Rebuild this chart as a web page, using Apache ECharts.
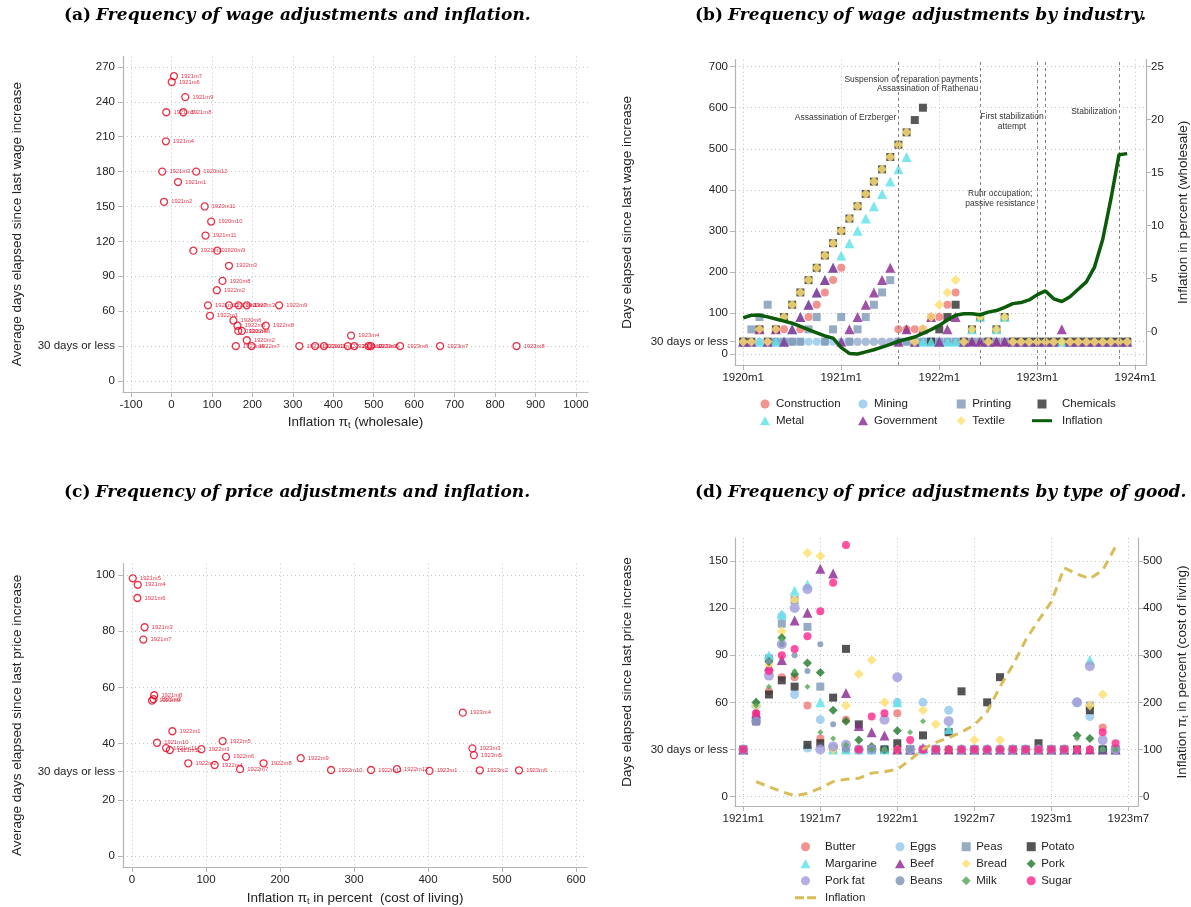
<!DOCTYPE html>
<html><head><meta charset="utf-8">
<script src="https://cdn.jsdelivr.net/npm/echarts@6/dist/echarts.min.js"></script>
<style>html,body{margin:0;padding:0;background:#fff}#c{width:1191px;height:907px}</style>
</head><body><div id="c"></div>
<script>
// ---------- Panel (a): wage adjustments vs wholesale inflation ----------
const aLabels = ['1921m7','1921m6','1921m9','1921m5','1921m8','1921m4','1921m3','1920m12','1921m1','1921m2','1920m11','1920m10','1921m11','1921m10','1920m9','1922m3','1920m8','1922m2','1921m12','1920m1','1920m7','1920m3','1922m9','1922m1','1920m6','1922m5','1922m8','1920m4','1922m6','1920m2','1922m4','1922m7','1922m10','1922m11','1922m12','1923m1','1923m2','1923m3','1923m5','1923m4','1923m6','1923m7','1923m8'];
const aInfl   = [6,0.5,34,-13,29,-14,-23,61,16,-18.5,82,98,84,54,113,142,126,112,90,142,166,186,266,95,153,163,233,165,174,186,159,198,316,355,377,436,452,487,493,444,565,664,853];
const aDays   = [262,257,244,231,231,206,180,180,171,154,150,137,125,112,112,99,86,78,65,65,65,65,65,56,52,47.5,47.5,43,43,35,30,30,30,30,30,30,30,30,30,39,30,30,30];

// ---------- Panel (b): wage adjustments by industry (months from 1920m1) ----------
const bMonths = Array.from({length:48},(_,i)=>i);
const bConstruction = [30,30,60,30,60,60,30,60,90,120,150,180,210,30,30,30,30,30,30,60,60,60,60,90,90,120,150,30,30,30,30,30,30,30,30,30,30,30,30,30,30,30,30,30,30,30,30,30];
const bMining       = [30,30,30,30,30,30,30,30,30,30,30,30,30,30,30,30,30,30,30,30,30,30,30,30,30,30,30,30,60,90,30,60,90,30,30,30,30,30,30,30,30,30,30,30,30,30,30,30];
const bPrinting     = [30,60,90,120,30,30,30,30,60,90,30,60,90,30,60,90,120,150,180,30,30,30,30,30,30,30,30,30,30,30,30,30,30,30,30,30,30,30,30,30,30,30,30,30,30,30,30,30];
const bChemicals    = [30,30,60,30,60,90,120,150,180,210,240,270,300,330,360,390,420,450,480,510,540,570,600,30,60,90,120,30,60,90,30,60,90,30,30,30,30,30,30,30,30,30,30,30,30,30,30,30];
const bMetal        = [30,30,30,30,30,30,60,90,120,150,180,210,240,270,300,330,360,390,420,450,480,30,30,30,30,30,30,30,60,90,30,60,90,30,30,30,30,30,30,30,30,30,30,30,30,30,30,30];
const bGovernment   = [30,30,60,30,60,30,60,90,120,150,180,210,30,60,90,120,150,180,210,30,60,30,60,90,30,60,90,30,30,30,30,30,30,30,30,30,30,30,30,60,30,30,30,30,30,30,30,30];
const bTextile      = [30,30,60,30,60,90,120,150,180,210,240,270,300,330,360,390,420,450,480,510,540,30,60,90,120,150,180,30,60,90,30,60,90,30,30,30,30,30,30,30,30,30,30,30,30,30,30,30];
const bInflation    = [1.3,1.55,1.55,1.4,1.2,1.0,0.8,0.5,0.2,-0.1,-0.4,-0.6,-1.5,-2.05,-2.1,-1.9,-1.7,-1.45,-1.2,-0.9,-0.7,-0.5,-0.15,0.2,0.6,1.1,1.55,1.7,1.7,1.6,1.85,2.0,2.3,2.65,2.75,3.0,3.5,3.85,3.1,2.85,3.3,4.0,4.7,6.1,8.7,12.5,16.7,16.8];
const bEventMonths  = [19,29,36,37,46];
const bNoteText  = ['Assassination of Erzberger','Suspension of reparation payments\nAssassination of Rathenau','First stabilization\nattempt','Ruhr occupation;\npassive resistance','Stabilization'];
const bNoteX     = [19,29,32.9,31.45,46];
const bNoteY     = [577,657,566,379,590];
const bNotePos   = ['left','left','inside','inside','left'];

// ---------- Panel (c): price adjustments vs cost-of-living inflation ----------
const cLabels = ['1921m5','1921m4','1921m6','1921m3','1921m7','1921m8','1921m9','1921m2','1922m1','1921m10','1921m11','1921m12','1922m3','1922m5','1922m6','1922m2','1922m4','1922m7','1922m8','1922m9','1922m10','1922m11','1922m12','1923m1','1923m2','1923m3','1923m4','1923m5','1923m6'];
const cInfl   = [1,7.7,7.2,17,15.3,30,27,29,54.5,33.8,46,51,93.7,122.5,127,76,111.7,146,177.7,228,269,323,358,402,470,460,447,462,523];
const cDays   = [98.8,96.5,91.8,81.4,77,57.2,55.3,55.8,44.4,40.3,38.4,37.7,38,40.9,35.3,33,32.4,30.9,33,34.8,30.6,30.6,30.9,30.3,30.5,38.3,51,35.9,30.5];

// ---------- Panel (d): price adjustments by good (months from 1921m1) ----------
const dMonths = Array.from({length:30},(_,i)=>i);
const dButter   = [30,53,67,76,76,58,37,30,49,30,30,30,53,30,30,30,30,30,30,30,30,30,30,30,30,30,30,30,44,30];
const dEggs     = [30,58,88,115,65,31,49,31,30,30,30,30,60,30,60,30,55,30,30,30,30,30,30,30,30,30,60,51,30,30];
const dPeas     = [30,48,88,110,125,108,70,30,30,30,30,30,30,30,30,30,30,30,30,30,30,30,30,30,30,30,30,58,30,30];
const dPotato   = [30,48,65,74,70,33,34,63,94,46,30,30,34,30,39,30,41,67,30,60,76,30,30,34,30,30,30,55,30,30];
const dMargarine= [30,60,90,116,131,135,60,30,30,30,30,30,60,30,30,30,43,30,30,30,30,30,30,30,30,30,30,87,30,30];
const dBeef     = [30,53,83,87,112,117,145,142,66,45,41,39,30,30,31,30,30,30,30,30,30,30,30,30,30,30,30,30,30,30];
const dBread    = [30,58,84,105,125,155,153,30,58,78,87,60,30,30,55,46,30,30,36,30,36,30,30,30,30,30,30,58,65,30];
const dPork     = [30,60,86,101,78,85,79,55,48,36,32,30,42,30,30,30,30,30,30,30,30,30,30,30,30,30,39,37,30,30];
const dPorkFat  = [30,48,77,97,120,132,30,32,33,30,30,49,76,30,30,30,48,30,30,30,30,30,30,30,30,30,60,83,36,30];
const dBeans    = [30,48,86,97,90,80,97,46,30,30,30,30,30,30,30,30,30,30,30,30,30,30,30,30,30,30,30,30,30,30];
const dMilk     = [30,58,70,100,80,70,41,37,33,30,30,30,30,41,48,30,30,30,30,30,30,30,30,30,30,30,37,30,30,30];
const dSugar    = [30,53,80,90,94,102,118,136,160,30,51,53,30,36,30,30,30,30,30,30,30,30,30,30,30,30,30,30,41,34];
const dInflation= [null,32,21,11,2,7,18,32,37,39,50,53,58,78,101,115,125,137,152,180,233,279,332,374,413,485,472,462,480,530];

// ---------- Tick label values ----------
const aYTicks = [0,30,60,90,120,150,180,210,240,270];
const aXTicks = [-100,0,100,200,300,400,500,600,700,800,900,1000];
const bYTicks = [0,30,100,200,300,400,500,600,700];
const bY2Ticks = [0,5,10,15,20,25];
const bXTicks = [0,12,24,36,48];
const cYTicks = [0,20,30,40,60,80,100];
const cXTicks = [0,100,200,300,400,500,600];
const dYTicks = [0,30,60,90,120,150];
const dY2Ticks = [0,100,200,300,400,500];
const dXTicks = [0,6,12,18,24,30];

// ---------- helpers ----------
const SANS = 'Liberation Sans';
const SERIF = 'DejaVu Serif';
const AXC = '#b4b4b4';
const TXT = '#222';
const RED = '#e3001b';
const daysFmt = v => v === 30 ? '30 days or less' : String(v);
const rich = {s:{fontSize:9, fontFamily:SANS, color:TXT, padding:[6,0,0,0]}};

// legend icon shapes
const IC_SQ  = 'path://M0,0h10v10h-10z';
const IC_TRI = 'path://M5,0L10,9L0,9Z';
const IC_DIA = 'path://M5,0L10,5L5,10L0,5Z';
const IC_LINE = 'path://M0,0h20v3h-20z';
const IC_DASH = 'path://M0,0h9v3h-9zM12,0h9v3h-9z';

function axis(o) {
  const base = {
    type:'value', min:o.min, max:o.max,
    axisLine:{show:true, onZero:false, lineStyle:{color:AXC, width:1.2}},
    axisTick:{show:true, length:5, customValues:o.ticks, lineStyle:{color:AXC}},
    axisLabel:{show:true, customValues:o.ticks, fontSize:11.5, fontFamily:SANS, color:TXT, margin:o.margin||7, formatter:o.fmt||(v=>String(v))},
    splitLine:{show:o.split!==false, lineStyle:{type:[1,3], color:'#c4c4c4', width:1}},
    gridIndex:o.grid
  };
  if (o.name) {
    base.name = o.name; base.nameLocation = 'middle'; base.nameGap = o.gap;
    base.nameTextStyle = {fontSize:13.5, fontFamily:SANS, color:TXT, rich:rich};
  }
  if (o.position) base.position = o.position;
  return base;
}

function zip(xs, ys) { return xs.map((x,i)=> ys[i]==null ? null : [x, ys[i]]).filter(d=>d); }
function labelled(xs, ys, ls) { return xs.map((x,i)=>[x, ys[i], ls[i]]); }

function scat(name, xi, yi, data, symbol, size, color, extra) {
  return Object.assign({
    type:'scatter', name:name, xAxisIndex:xi, yAxisIndex:yi, data:data,
    symbol:symbol, symbolSize:size,
    itemStyle:{color:color, opacity:0.82}, z:3
  }, extra||{});
}

const redLabelled = (xi, yi, data) => ({
  type:'scatter', xAxisIndex:xi, yAxisIndex:yi, data:data, symbol:'circle', symbolSize:7,
  itemStyle:{color:'rgba(0,0,0,0)', borderColor:RED, borderWidth:1.3},
  label:{show:true, position:'right', distance:3, fontSize:5.8, fontFamily:SANS, color:RED, formatter:p=>p.data[2]}
});

// annotations for panel (b)
const markLineB = {
  silent:true, symbol:'none', label:{show:false},
  lineStyle:{type:[3,3], color:'#808080', width:1},
  data: bEventMonths.map(m=>({xAxis:m}))
};
const markPointB = {
  silent:true, symbol:'circle', symbolSize:0,
  data: bNoteText.map((t,i)=>({coord:[bNoteX[i], bNoteY[i]], value:0,
    label:{show:true, position:bNotePos[i], distance:2, formatter:t, fontSize:8.5, lineHeight:9.5, fontFamily:SANS, color:'#333'}}))
};

const titleRich = {
  b:{fontFamily:SERIF, fontWeight:'bold', fontSize:17, color:'#000'},
  i:{fontFamily:SERIF, fontStyle:'italic', fontSize:17, color:'#000'}
};
const mkTitle = (left, top, tag, txt) => ({left:left, top:top, padding:0, text:'{b|'+tag+'} {i|'+txt+'}', textStyle:{rich:titleRich}});

const bXfmt = v => (1920 + v/12) + 'm1';
const dXfmt = v => (1921 + Math.floor(v/12)) + 'm' + (v%12 + 1);

const legTxt = {fontSize:11.5, lineHeight:14, fontFamily:SANS, color:TXT};
const legBase = {orient:'vertical', padding:0, itemHeight:9, itemGap:2.7, textStyle:legTxt};

const option = {
  animation:false,
  backgroundColor:'#fff',
  title:[
    mkTitle(64, 7, '(a)', 'Frequency of wage adjustments and inflation.'),
    mkTitle(695, 7, '(b)', 'Frequency of wage adjustments by industry.'),
    mkTitle(64, 484, '(c)', 'Frequency of price adjustments and inflation.'),
    mkTitle(695, 484, '(d)', 'Frequency of price adjustments by type of good.')
  ],
  grid:[
    {left:123, top:56.4, width:465.1, height:335.6},
    {left:735, top:59.7, width:411.7, height:305.3},
    {left:123, top:563.7, width:464.1, height:304.3},
    {left:735, top:538, width:404, height:268}
  ],
  xAxis:[
    axis({grid:0, min:-120, max:1030, ticks:aXTicks, name:'Inflation π{s|t} (wholesale)', gap:23}),
    axis({grid:1, min:-1.0, max:49.3, ticks:bXTicks, fmt:bXfmt}),
    axis({grid:2, min:-12.2, max:615, ticks:cXTicks, name:'Inflation π{s|t} in percent  (cost of living)', gap:24}),
    axis({grid:3, min:-0.645, max:30.75, ticks:dXTicks, fmt:dXfmt})
  ],
  yAxis:[
    axis({grid:0, min:-9.5, max:279, ticks:aYTicks, fmt:daysFmt, margin:8, name:'Average days elapsed since last wage increase', gap:99}),
    axis({grid:1, min:-26.8, max:717, ticks:bYTicks, fmt:daysFmt, margin:7, name:'Days elapsed since last wage increase', gap:101}),
    axis({grid:1, min:-3.14, max:25.66, ticks:bY2Ticks, position:'right', split:false, margin:5, name:'Inflation in percent (wholesale)', gap:30}),
    axis({grid:2, min:-3.9, max:104, ticks:cYTicks, fmt:daysFmt, margin:8, name:'Average days elapsed since last price increase', gap:99}),
    axis({grid:3, min:-5.9, max:164.5, ticks:dYTicks, fmt:daysFmt, margin:7, name:'Days elapsed since last price increase', gap:101}),
    axis({grid:3, min:-19.67, max:548.33, ticks:dY2Ticks, position:'right', split:false, margin:5, name:'Inflation π{s|t} in percent (cost of living)', gap:37})
  ],
  legend:[
    Object.assign({}, legBase, {left:760, top:397, itemWidth:12, data:['Construction',{name:'Metal',icon:IC_TRI}]}),
    Object.assign({}, legBase, {left:858, top:397, itemWidth:12, data:['Mining',{name:'Government',icon:IC_TRI}]}),
    Object.assign({}, legBase, {left:956.7, top:397, itemWidth:12, data:[{name:'Printing',icon:IC_SQ},{name:'Textile',icon:IC_DIA}]}),
    Object.assign({}, legBase, {left:1032, top:397, itemWidth:20, textStyle:Object.assign({}, legTxt, {padding:[0,0,0,5]}), data:[{name:'Chemicals',icon:IC_SQ},{name:'Inflation',icon:IC_LINE}]}),
    Object.assign({}, legBase, {left:795, top:839.7, itemWidth:21, itemGap:3, textStyle:Object.assign({}, legTxt, {padding:[0,0,0,4]}), data:['Butter',{name:'Margarine',icon:IC_TRI},'Pork fat',{name:'Inflation ',icon:IC_DASH}]}),
    Object.assign({}, legBase, {left:895, top:839.7, itemWidth:10, itemGap:3, data:['Eggs',{name:'Beef',icon:IC_TRI},'Beans']}),
    Object.assign({}, legBase, {left:961.7, top:839.7, itemWidth:10, itemGap:3, data:[{name:'Peas',icon:IC_SQ},{name:'Bread',icon:IC_DIA},{name:'Milk',icon:IC_DIA}]}),
    Object.assign({}, legBase, {left:1026.7, top:839.7, itemWidth:10, itemGap:3, data:[{name:'Potato',icon:IC_SQ},{name:'Pork',icon:IC_DIA},'Sugar']})
  ],
  series:[
    // (a)
    redLabelled(0, 0, labelled(aInfl, aDays, aLabels)),
    // (b)
    scat('Construction',1,1,zip(bMonths,bConstruction),'circle',8,'#ee7b78',{markLine:markLineB, markPoint:markPointB}),
    scat('Mining',1,1,zip(bMonths,bMining),'circle',8,'#95c8ec'),
    scat('Printing',1,1,zip(bMonths,bPrinting),'rect',8,'#7f9ab8'),
    scat('Chemicals',1,1,zip(bMonths,bChemicals),'rect',8,'#333333'),
    scat('Metal',1,1,zip(bMonths,bMetal),'triangle',10,'#5fe3ea'),
    scat('Government',1,1,zip(bMonths,bGovernment),'triangle',10,'#8b2a92'),
    scat('Textile',1,1,zip(bMonths,bTextile),'diamond',10,'#ffdf70'),
    {type:'line', name:'Inflation', xAxisIndex:1, yAxisIndex:2, data:zip(bMonths,bInflation), symbol:'none', lineStyle:{color:'#0a5c0a', width:3.5}, itemStyle:{color:'#0a5c0a'}, z:5},
    // (c)
    redLabelled(2, 3, labelled(cInfl, cDays, cLabels)),
    // (d)
    scat('Butter',3,4,zip(dMonths,dButter),'circle',8,'#ee7b78'),
    scat('Eggs',3,4,zip(dMonths,dEggs),'circle',9,'#95c8ec'),
    scat('Peas',3,4,zip(dMonths,dPeas),'rect',8,'#7f9ab8'),
    scat('Potato',3,4,zip(dMonths,dPotato),'rect',8,'#2e2e2e'),
    scat('Margarine',3,4,zip(dMonths,dMargarine),'triangle',10,'#5fe3ea'),
    scat('Beef',3,4,zip(dMonths,dBeef),'triangle',10,'#8b2a92'),
    scat('Bread',3,4,zip(dMonths,dBread),'diamond',10,'#ffdf70'),
    scat('Pork',3,4,zip(dMonths,dPork),'diamond',9,'#267a30'),
    scat('Pork fat',3,4,zip(dMonths,dPorkFat),'circle',10,'#a49ddc'),
    scat('Beans',3,4,zip(dMonths,dBeans),'circle',6,'#7f94b4'),
    scat('Milk',3,4,zip(dMonths,dMilk),'diamond',6,'#5aa65a'),
    scat('Sugar',3,4,zip(dMonths,dSugar),'circle',8,'#ff2a8c'),
    {type:'line', name:'Inflation ', xAxisIndex:3, yAxisIndex:5, data:zip(dMonths,dInflation), symbol:'none', lineStyle:{color:'#d8bd5a', width:3, type:[9,6]}, itemStyle:{color:'#d8bd5a'}, z:5}
  ]
};

const chart = echarts.init(document.getElementById('c'), null, {renderer:'canvas'});
chart.setOption(option);
</script></body></html>
